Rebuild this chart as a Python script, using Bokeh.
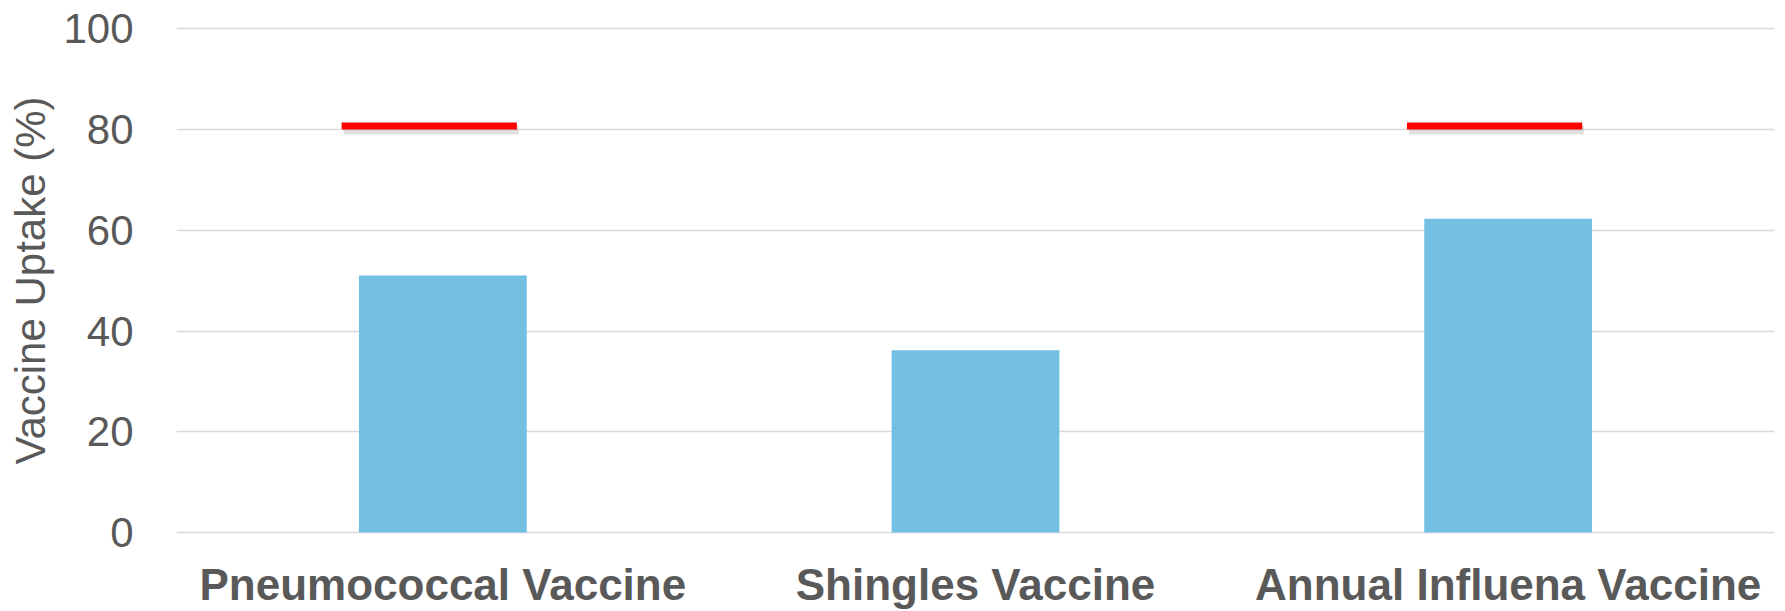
from bokeh.plotting import figure
from bokeh.models import Range1d, FactorRange, ColumnDataSource
from bokeh.transform import dodge
from bokeh.embed import file_html
from bokeh.resources import INLINE

categories = ["Pneumococcal Vaccine", "Shingles Vaccine", "Annual Influena Vaccine"]
uptake = [51.0, 36.2, 62.3]
target_cats = ["Pneumococcal Vaccine", "Annual Influena Vaccine"]
target = [80.7, 80.7]
y_ticks = [0, 20, 40, 60, 80, 100]

TEXT = "#595959"
FONT = "Liberation Sans"

p = figure(x_range=FactorRange(*categories, range_padding=0), y_range=Range1d(-0.4, 100.46),
           width=1785, height=611, output_backend="svg", toolbar_location=None,
           min_border_left=176, min_border_right=11, min_border_top=26, min_border_bottom=76)
p.outline_line_color = None
p.background_fill_color = "white"
p.border_fill_color = "white"

src = ColumnDataSource(dict(cat=categories, val=uptake))
p.vbar(x="cat", top="val", bottom=0, width=0.315, source=src, fill_color="#73C0E3", line_color=None)

tsrc = ColumnDataSource(dict(cat=target_cats, val=target, sh=[v - 0.8 for v in target]))
p.segment(x0=dodge("cat", -0.186, range=p.x_range), x1=dodge("cat", 0.142, range=p.x_range),
          y0="sh", y1="sh", source=tsrc, line_color="#000000", line_alpha=0.12, line_width=9)
p.segment(x0=dodge("cat", -0.19, range=p.x_range), x1=dodge("cat", 0.139, range=p.x_range),
          y0="val", y1="val", source=tsrc, line_color="#FF0000", line_width=7)

p.yaxis.ticker = y_ticks
p.yaxis.axis_label = "Vaccine Uptake (%)"
p.yaxis.axis_label_text_font = FONT
p.yaxis.axis_label_text_font_style = "normal"
p.yaxis.axis_label_text_font_size = "42px"
p.yaxis.axis_label_text_color = TEXT
p.yaxis.axis_label_standoff = 6
p.yaxis.major_label_text_font = FONT
p.yaxis.major_label_text_font_size = "42px"
p.yaxis.major_label_text_color = TEXT
p.yaxis.major_label_standoff = 37
p.yaxis.axis_line_color = None
p.yaxis.major_tick_line_color = None
p.yaxis.minor_tick_line_color = None

p.xaxis.major_label_text_font = FONT
p.xaxis.major_label_text_font_style = "bold"
p.xaxis.major_label_text_font_size = "44px"
p.xaxis.major_label_text_color = TEXT
p.xaxis.major_label_standoff = 19
p.xaxis.axis_line_color = None
p.xaxis.major_tick_line_color = None
p.xaxis.minor_tick_line_color = None

p.xgrid.grid_line_color = None
p.ygrid.grid_line_color = "#D9D9D9"
p.ygrid.grid_line_width = 1.5

open("out.html", "w").write(file_html(p, INLINE))
